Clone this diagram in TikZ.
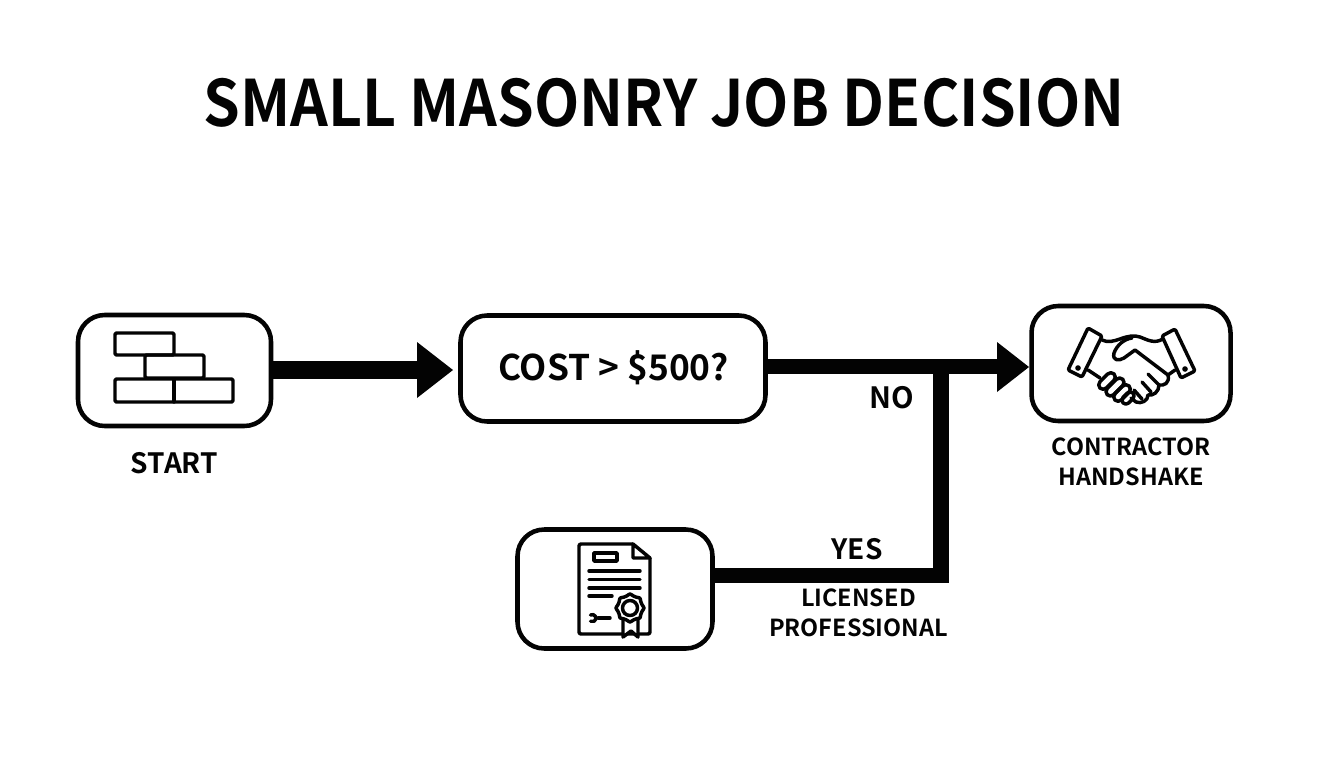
\documentclass[tikz,border=0pt]{standalone}
\usepackage{fontspec}
\setmainfont{Noto Sans CJK SC}[BoldFont={Noto Sans CJK SC Bold}]
\newfontfamily\titlefont{Noto Sans CJK SC Bold}[FakeStretch=0.92]
\definecolor{ink}{HTML}{030303}
\tikzset{
  x=0.75pt,y=-0.75pt,
  box/.style={draw=ink,line width=3.4pt,rounded corners=20pt,fill=white,inner sep=0pt},
  lab/.style={font=\bfseries\fontsize{17.6}{22.5}\selectfont,text=ink,align=center,inner sep=0pt},
  icon/.style={draw=ink,line width=2.6pt,line join=round,line cap=round},
  pipe/.style={draw=ink,line cap=butt,line join=miter},
  head/.style={fill=ink,draw=none},
}
\begin{document}
\begin{tikzpicture}
\useasboundingbox (0,0) rectangle (1344,768);
\fill[white] (0,0) rectangle (1344,768);
\node[font=\titlefont\fontsize{48}{56}\selectfont,text=ink,inner sep=0pt] (title) at (664,103) {SMALL MASONRY JOB DECISION};
\node[box,minimum width=193*0.75pt,minimum height=111*0.75pt] (start) at (174.5,370.5) {};
\node[box,minimum width=305*0.75pt,minimum height=106*0.75pt] (cost) at (613,368.5) {};
\node[lab,font=\bfseries\fontsize{26.5}{30}\selectfont] (costt) at (613.5,368) {COST > \$500?};
\node[box,minimum width=199*0.75pt,minimum height=115*0.75pt] (hand) at (1131,363.5) {};
\node[box,minimum width=195*0.75pt,minimum height=119*0.75pt] (cert) at (615,589) {};
\node[lab,font=\bfseries\fontsize{21}{24}\selectfont] (startl) at (174.5,463) {START};
\node[lab] (handl) at (1131,462) {CONTRACTOR\\HANDSHAKE};
\node[lab,font=\bfseries\fontsize{22}{24}\selectfont] (nol) at (891.5,398) {NO};
\node[lab,font=\bfseries\fontsize{21}{24}\selectfont] (yesl) at (857,549) {YES};
\node[lab] (licl) at (858.5,613) {LICENSED\\PROFESSIONAL};
\coordinate (j1) at (941,366.5);
\coordinate (j2) at (941,575.5);
\coordinate (a1) at (418,370);
\coordinate (a2) at (998,366.5);
\draw[pipe,line width=14pt] (start.east |- a1) -- (a1);
\fill[head] (417,342) -- (453,370) -- (417,398) -- cycle;
\draw[pipe,line width=11.3pt] (cost.east |- j1) -- (a2);
\fill[head] (997,342) -- (1029,367) -- (997,392) -- cycle;
\draw[pipe,line width=11.3pt] (cert.east |- j2) -- (j2) -- (j1);
% bricks
\begin{scope}[icon]
\draw[rounded corners=1pt] (115,333) rectangle (174,355);
\draw[rounded corners=1pt] (145,355) rectangle (204,378);
\draw[rounded corners=1pt] (115,379) rectangle (233,402);
\draw (174,379) -- (174,402);
\end{scope}
% handshake
\begin{scope}[icon]
\draw[rounded corners=1pt] (1088,328) -- (1102,336) -- (1082,377) -- (1068,370) -- cycle;
\draw[rounded corners=1pt] (1175,329) -- (1162,336) -- (1181,378) -- (1195,371) -- cycle;
\fill[ink] (1078,368) circle (2.8);
\fill[ink] (1185,369) circle (2.8);
\draw (1102,340) .. controls (1108,343) and (1114,341) .. (1120,339) .. controls (1128,336) and (1134,335) .. (1140,337) .. controls (1148,340) and (1154,344) .. (1163,339);
\draw (1132,338) .. controls (1124,339) and (1117,345) .. (1114,353) .. controls (1112,361) and (1119,361) .. (1124,358) -- (1135,350) -- (1168,375);
\draw (1168,375) .. controls (1170,383) and (1164,386) .. (1159,385);
\draw (1159,385) .. controls (1159,392) and (1153,396) .. (1148,395);
\draw (1148,395) .. controls (1148,401) and (1141,404) .. (1136,402) -- (1131,398);
\draw (1148,374) -- (1159,385);
\draw (1142,382) -- (1151,392);
\draw (1134,390) -- (1142,399);
\draw (1168,375) -- (1175,370);
\draw (1088,370) -- (1100,378);
\draw[rotate around={45:(1107,381)},rounded corners=3.5pt] (1097,376.5) rectangle (1117,385.5);
\draw[rotate around={45:(1115,387)},rounded corners=3.5pt] (1104,382.5) rectangle (1126,391.5);
\draw[rotate around={45:(1122,393)},rounded corners=3.5pt] (1112,388.5) rectangle (1132,397.5);
\draw[rotate around={45:(1128,398)},rounded corners=3pt] (1121,394) rectangle (1135,402);
\end{scope}
% certificate
\begin{scope}[icon]
\draw[rounded corners=1.5pt] (633,544) -- (579,544) -- (579,634) -- (650,634) -- (650,558);
\draw (633,544) -- (650,558) -- (633,558) -- cycle;
\draw (594,553) rectangle (617,561);
\draw (589,571) -- (640,571);
\draw (589,579.5) -- (640,579.5);
\draw (589,588) -- (640,588);
\draw (589,596) -- (612,596);
\draw (598,618) -- (610,618);
\draw (590.5,615) arc[start angle=-120,end angle=120,radius=3.6];
\draw[fill=white] (623,620) -- (623,637) -- (631,631) -- (638,637) -- (638,620);
\draw[fill=white] plot[smooth cycle,domain=0:345,samples=24,variable=\t] ({630+(13+1*cos(8*\t))*cos(\t)},{608+(13+1*cos(8*\t))*sin(\t)});
\draw (630,608) circle (7.5);
\end{scope}
\end{tikzpicture}
\end{document}
